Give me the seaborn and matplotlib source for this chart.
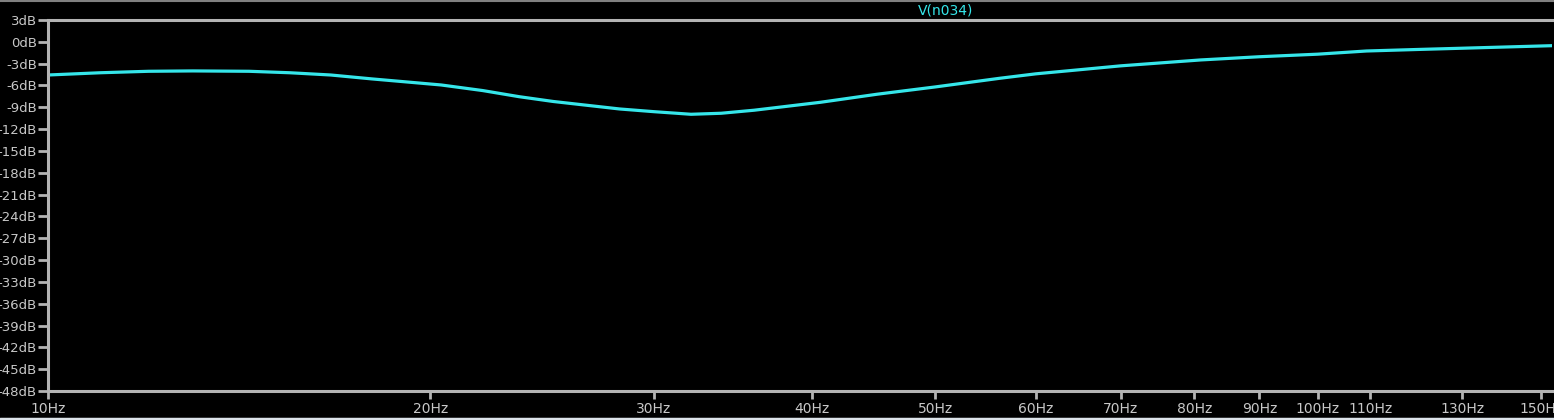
import numpy as np
import pandas as pd
import matplotlib
matplotlib.use("Agg")
import matplotlib.pyplot as plt
import seaborn as sns

# Data (frequency in Hz, magnitude in dB)
freq_hz = [10.0, 11.0, 12.0, 13.0, 14.4, 15.5, 16.7, 18.0, 20.4, 22.0, 23.5, 25.0,
           28.2, 30.0, 32.1, 33.9, 36.0, 40.6, 45.0, 50.0, 56.2, 60.0, 70.0, 80.9,
           90.0, 100.0, 109.3, 120.0, 130.0, 140.0, 153.0]
mag_db = [-4.56, -4.25, -4.05, -4.0, -4.05, -4.25, -4.56, -5.1, -5.93, -6.7, -7.54, -8.2,
          -9.23, -9.6, -9.96, -9.82, -9.4, -8.31, -7.2, -6.2, -5.01, -4.4, -3.3, -2.49,
          -2.05, -1.7, -1.26, -1.05, -0.88, -0.72, -0.53]

x_ticks = [10, 20, 30, 40, 50, 60, 70, 80, 90, 100, 110, 130, 150]
x_labels = ["10Hz", "20Hz", "30Hz", "40Hz", "50Hz", "60Hz", "70Hz", "80Hz",
            "90Hz", "100Hz", "110Hz", "130Hz", "150Hz"]
y_ticks = list(range(3, -49, -3))
y_labels = [f"{v}dB" for v in y_ticks]
trace_name = "V(n034)"

GRAY = "#b4b4b4"
CYAN = "#35e6ea"

sns.set_style("dark", {"axes.facecolor": "black", "figure.facecolor": "black"})
plt.rcParams["font.family"] = ["DejaVu Sans"]

fig = plt.figure(figsize=(15.54, 4.20), dpi=100)
fig.patch.set_facecolor("black")
ax = fig.add_axes([48 / 1554, 29 / 420, 1504 / 1554, 371 / 420])
ax.set_facecolor("black")

df = pd.DataFrame({"f": freq_hz, "db": mag_db})
sns.lineplot(data=df, x="f", y="db", ax=ax, color=CYAN, linewidth=2.3, legend=False)

ax.set_xscale("log")
ax.set_xlim(10, 153)
ax.set_ylim(-48, 3)
ax.set_xticks(x_ticks)
ax.set_xticklabels(x_labels)
ax.xaxis.set_minor_locator(matplotlib.ticker.NullLocator())
ax.set_yticks(y_ticks)
ax.set_yticklabels(y_labels)
ax.grid(False)
ax.set_xlabel("")
ax.set_ylabel("")

for side in ["left", "bottom", "top"]:
    ax.spines[side].set_visible(True)
    ax.spines[side].set_color(GRAY)
    ax.spines[side].set_linewidth(2.2)
ax.spines["right"].set_visible(False)

ax.tick_params(axis="y", direction="out", length=7, width=2, color=GRAY,
               labelcolor="#c8c8c8", labelsize=9.5, pad=1, left=True)
ax.tick_params(axis="x", direction="out", length=6, width=2, color=GRAY,
               labelcolor="#c8c8c8", labelsize=10, pad=2, bottom=True)

fig.text(946 / 1554, 1 - 11 / 420, trace_name, color=CYAN, fontsize=10,
         ha="center", va="center")

# window frame lines of the screenshot
fig.add_artist(plt.Line2D([0, 1], [1 - 0.5 / 420, 1 - 0.5 / 420], color="#808080",
                          linewidth=1.5, transform=fig.transFigure))
fig.add_artist(plt.Line2D([0, 1], [1.5 / 420, 1.5 / 420], color="#dde4ea",
                          linewidth=2.5, transform=fig.transFigure))

fig.savefig("out.png", dpi=100, facecolor="black")
